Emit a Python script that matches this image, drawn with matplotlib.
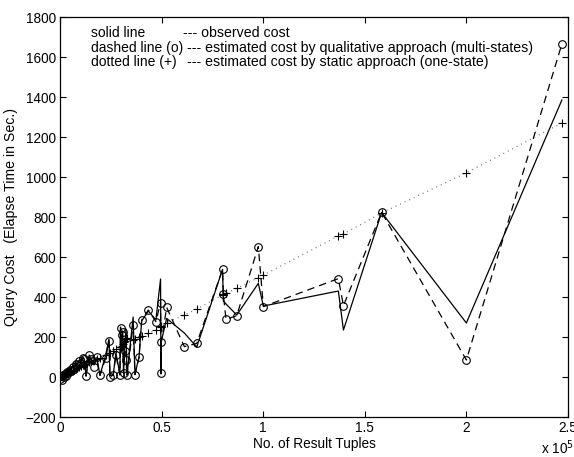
import numpy as np
import matplotlib
matplotlib.use('Agg')
from matplotlib import pyplot as plt

plt.rcParams['font.family'] = ['Liberation Sans', 'DejaVu Sans']

# number of result tuples
tuples = [200, 500, 900, 1300, 1800, 2300, 2900, 3500, 4100, 4800,
          5500, 6200, 7000, 7800, 8600, 9500, 10400, 11300, 12000, 12800,
          14400, 15500, 16800, 18000, 19700, 22500, 24100, 24600, 26200, 27500,
          29500, 29800, 30300, 30800, 31300, 31900, 32500, 33000, 36000, 36900,
          38900, 40200, 43500, 47200, 49500, 49700, 49900, 52500, 61200, 67300,
          80000, 80400, 81700, 87000, 97600, 100100, 137000, 139500, 158300, 200000,
          247000]
# observed cost (solid)
observed = [0, 10, -5, 15, 5, 20, 10, 30, 22, 40,
            35, 55, 45, 70, 60, 85, 75, 100, 90, 5,
            110, 80, 60, 95, 10, 110, 190, 8, 10, 120,
            15, 250, 160, 230, 20, 160, 240, 10, 300, 15,
            100, 280, 330, 285, 490, 15, 180, 293, 220, 150,
            538, 380, 365, 310, 468, 355, 430, 235, 823, 270,
            1385]
# estimated cost, qualitative approach (dashed, o)
qualitative = [-10, 5, -15, 10, 0, 15, 5, 25, 18, 35,
               30, 50, 42, 65, 58, 80, 72, 95, 88, 5,
               110, 90, 50, 100, 8, 95, 182, 0, 10, 110,
               10, 247, 210, 225, 20, 130, 85, 10, 260, 12,
               98, 285, 335, 277, 372, 22, 177, 348, 152, 168,
               538, 413, 288, 307, 652, 352, 492, 357, 823, 85,
               1665]
# estimated cost, static approach (dotted, +)
static = [1, 3, 5, 7, 9, 12, 15, 18, 21, 25,
          28, 32, 36, 40, 44, 49, 53, 58, 62, 66,
          74, 80, 86, 92, 93, 110, 118, 122, 130, 138,
          148, 150, 155, 165, 175, 182, 190, 195, 185, 188,
          198, 205, 218, 235, 250, 252, 255, 272, 310, 340,
          410, 413, 418, 443, 497, 510, 705, 715, 820, 1021,
          1270]

x = np.array(tuples) / 1e5

fig = plt.figure(figsize=(5.74, 4.57), dpi=100)
ax = fig.add_axes([0.1045, 0.0875, 0.885, 0.8753])

ax.plot(x, observed, '-', color='k', lw=0.9)
ax.plot(x, qualitative, '--o', color='k', lw=0.9, dashes=(6, 4),
        markersize=5.5, markerfacecolor='none', markeredgewidth=0.8)
ax.plot(x, static, ':+', color='k', lw=0.9, dashes=(0.8, 3.2),
        markersize=6, markeredgewidth=0.8)
ax.lines[-1].set_color('0.45')
ax.lines[-1].set_markeredgecolor('k')

ax.set_xlim(0, 2.5)
ax.set_ylim(-200, 1800)
ax.set_xticks([0, 0.5, 1, 1.5, 2, 2.5])
ax.set_xticklabels(['0', '0.5', '1', '1.5', '2', '2.5'])
ax.set_yticks(range(-200, 1801, 200))
ax.tick_params(direction='in', top=True, right=True, length=4, width=0.8,
               labelsize=9.8, pad=3)
for s in ax.spines.values():
    s.set_linewidth(0.9)

ax.set_xlabel('No. of Result Tuples', fontsize=9.8, labelpad=1)
ax.set_ylabel('Query Cost   (Elapse Time in Sec.)', fontsize=10.2)
ax.yaxis.set_label_coords(-0.083, 0.5)
ax.text(1.012, -0.092, r'x 10$^5$', transform=ax.transAxes, fontsize=9.8,
        ha='right', va='baseline')

rows = ['solid line', 'dashed line (o)', 'dotted line (+)']
notes = ['--- observed cost',
         '--- estimated cost by qualitative approach (multi-states)',
         '--- estimated cost by static approach (one-state)']
note_x = [0.242, 0.251, 0.251]
for i, (r, n) in enumerate(zip(rows, notes)):
    yy = 0.959 - i * 0.0355
    ax.text(0.061, yy, r, transform=ax.transAxes, fontsize=10.0, va='center')
    ax.text(note_x[i], yy, n, transform=ax.transAxes, fontsize=10.2, va='center')

fig.savefig('out.png', dpi=100)
